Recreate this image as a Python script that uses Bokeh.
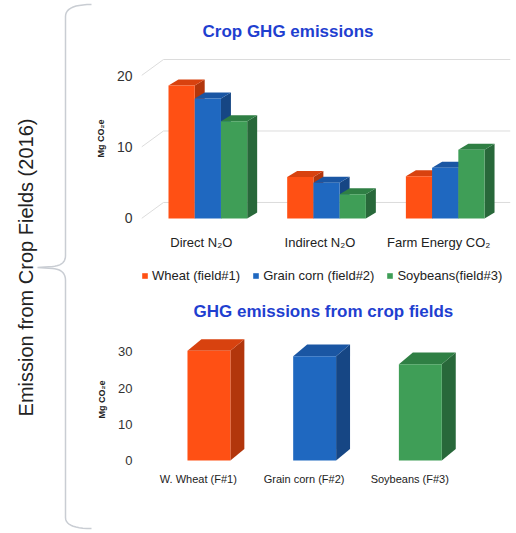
import numpy as np
from bokeh.plotting import figure
from bokeh.models import Range1d, FixedTicker, Legend, LegendItem
from bokeh.layouts import row, column
from bokeh.embed import file_html
from bokeh.resources import INLINE
from bokeh.core.properties import value

# ---------------- data ----------------
gas_categories = ["Direct N\u2082O", "Indirect N\u2082O", "Farm Energy CO\u2082"]
series_names = ["Wheat (field#1)", "Grain corn (field#2)", "Soybeans(field#3)"]
wheat = [18.6, 5.8, 5.9]
grain_corn = [16.8, 5.0, 7.1]
soybeans = [13.6, 3.4, 9.6]
top_ticks = [0, 10, 20]

field_labels = ["W. Wheat (F#1)", "Grain corn (F#2)", "Soybeans (F#3)"]
field_totals = [30.3, 28.8, 26.6]
bottom_ticks = [0, 10, 20, 30]

side_title = "Emission from Crop Fields (2016)"
top_title = "Crop GHG emissions"
bottom_title = "GHG emissions from crop fields"
y_title = "Mg CO\u2082e"

# ---------------- style ----------------
FONT = "Liberation Sans"
FRONT = ["#ff5014", "#1f68c0", "#3f9e57"]
TOPC = ["#d8420f", "#1a56a3", "#2f7f44"]
SIDE = ["#b2360c", "#164684", "#28683a"]
TITLE_COLOR = "#1f3fd0"
LEFT_W = 92
RIGHT_W = 424
BORDER_L = 48


def bars3d(p, xs, vals, w, dx, dy, ci):
    xs = np.asarray(xs, float)
    vals = np.asarray(vals, float)
    left = xs - w / 2
    right = xs + w / 2
    side_x = [[r, r, r + dx, r + dx] for r in right]
    side_y = [[0, v, v + dy, dy] for v in vals]
    top_x = [[l, r, r + dx, l + dx] for l, r in zip(left, right)]
    top_y = [[v, v, v + dy, v + dy] for v in vals]
    p.patches(side_x, side_y, fill_color=SIDE[ci], line_color=None)
    p.patches(top_x, top_y, fill_color=TOPC[ci], line_color=None)
    return p.vbar(x=xs, top=vals, bottom=0, width=w,
                  fill_color=FRONT[ci], line_color=None)


def style_axes(p, yticks, ysize, xsize, xstand, labels):
    p.xgrid.visible = False
    p.ygrid.visible = False
    p.outline_line_color = None
    for ax in (p.xaxis[0], p.yaxis[0]):
        ax.axis_line_color = None
        ax.major_tick_line_color = None
        ax.minor_tick_line_color = None
        ax.major_tick_out = 0
        ax.major_tick_in = 0
        ax.minor_tick_out = 0
        ax.minor_tick_in = 0
        ax.major_label_text_font = FONT
    ya = p.yaxis[0]
    ya.ticker = FixedTicker(ticks=yticks)
    ya.major_label_text_font_size = ysize
    ya.major_label_text_color = "#333333"
    ya.major_label_standoff = 9
    ya.axis_label = y_title
    ya.axis_label_text_font = FONT
    ya.axis_label_text_font_style = "bold"
    ya.axis_label_text_font_size = "9px"
    ya.axis_label_text_color = "#222222"
    ya.axis_label_standoff = 8
    xa = p.xaxis[0]
    xa.ticker = FixedTicker(ticks=list(range(len(labels))))
    xa.major_label_overrides = {i: lab for i, lab in enumerate(labels)}
    xa.major_label_text_font_size = xsize
    xa.major_label_text_color = "#222222"
    xa.major_label_standoff = xstand


def style_title(p, text, offset):
    p.title.text = text
    p.title.align = "left"
    p.title.offset = offset
    p.title.text_font = FONT
    p.title.text_font_size = "17px"
    p.title.text_font_style = "bold"
    p.title.text_color = TITLE_COLOR
    p.title.standoff = 19


# ---------------- left: brace + side title ----------------
H = 533
pl = figure(width=LEFT_W, height=H, output_backend="svg", toolbar_location=None,
            x_range=Range1d(0, LEFT_W), y_range=Range1d(0, H), tools="",
            min_border=0)
pl.axis.visible = False
pl.grid.visible = False
pl.outline_line_color = None


def quad(p0, c, p1, n=12):
    t = np.linspace(0, 1, n)
    x = (1 - t) ** 2 * p0[0] + 2 * (1 - t) * t * c[0] + t ** 2 * p1[0]
    y = (1 - t) ** 2 * p0[1] + 2 * (1 - t) * t * c[1] + t ** 2 * p1[1]
    return list(x), list(y)


bx, by = [], []
for seg in [quad((91, 4), (65, 4), (65, 16)),
            ([65, 65], [16, 255]),
            quad((65, 255), (65, 265), (52, 266)),
            ([52, 37], [266, 267]),
            ([37, 52], [267, 268]),
            quad((52, 268), (65, 269), (65, 280)),
            ([65, 65], [280, 517]),
            quad((65, 517), (65, 528), (91, 528))]:
    bx += list(seg[0])
    by += [H - v for v in seg[1]]
pl.line(bx, by, line_color="#c9cdd3", line_width=1.5)
pl.text(x=[25], y=[H - 267], text=[side_title], angle=np.pi / 2,
        text_align="center", text_baseline="middle",
        text_font=value(FONT), text_font_size="20px", text_color="#222222")

# ---------------- top chart ----------------
pt = figure(width=RIGHT_W, height=260, output_backend="svg", toolbar_location=None,
            x_range=Range1d(-0.504, 2.605), y_range=Range1d(-1.12, 23.5),
            tools="", min_border_left=BORDER_L, min_border_right=6,
            min_border_top=50, min_border_bottom=34)
style_title(pt, top_title, 61)
style_axes(pt, top_ticks, "14px", "13px", 8, gas_categories)

# back-wall gridlines
x0, x1 = pt.x_range.start, pt.x_range.end
gx = [[x0, x0 + 0.185, x1] for v in top_ticks]
gy = [[v, v + 2.24, v + 2.24] for v in top_ticks]
pt.multi_line(gx, gy, line_color="#dcdcdc", line_width=1)

offs = [-0.221, 0.0, 0.221]
for ci, vals in enumerate([wheat, grain_corn, soybeans]):
    xs = [i + 0.055 + offs[ci] for i in range(len(vals))]
    bars3d(pt, xs, vals, 0.221, 0.084, 0.84, ci)

# ---------------- legend strip ----------------
pg = figure(width=RIGHT_W, height=30, output_backend="svg", toolbar_location=None,
            x_range=Range1d(0, 1), y_range=Range1d(0, 1), tools="",
            min_border_left=BORDER_L, min_border_right=6, min_border_top=0,
            min_border_bottom=0)
pg.axis.visible = False
pg.grid.visible = False
pg.outline_line_color = None
leg_rends = []
for ci, vals in enumerate([wheat, grain_corn, soybeans]):
    r = pg.vbar(x=list(range(len(vals))), top=vals, width=0.1,
                fill_color=FRONT[ci], line_color=None)
    r.visible = False
    leg_rends.append(r)
legend = Legend(items=[LegendItem(label=n, renderers=[r])
                       for n, r in zip(series_names, leg_rends)],
                orientation="horizontal", location=(0, 7),
                border_line_color=None, background_fill_alpha=0,
                inactive_fill_alpha=0,
                glyph_width=7, glyph_height=7, label_standoff=4,
                label_text_font=FONT, label_text_font_size="13px",
                label_text_color="#222222", spacing=12, padding=2, margin=0)
pg.add_layout(legend)

# ---------------- bottom chart ----------------
pb = figure(width=RIGHT_W, height=243, output_backend="svg", toolbar_location=None,
            x_range=Range1d(-0.538, 2.953), y_range=Range1d(-2.21, 35.9),
            tools="", min_border_left=BORDER_L, min_border_right=6,
            min_border_top=40, min_border_bottom=65)
style_title(pb, bottom_title, 52)
style_axes(pb, bottom_ticks, "13px", "11px", 4, field_labels)

for ci in range(len(field_totals)):
    bars3d(pb, [ci + 0.1], [field_totals[ci]], 0.406, 0.132, 3.2, ci)

layout = row(pl, column(pt, pg, pb))
open("out.html", "w").write(file_html(layout, INLINE))
